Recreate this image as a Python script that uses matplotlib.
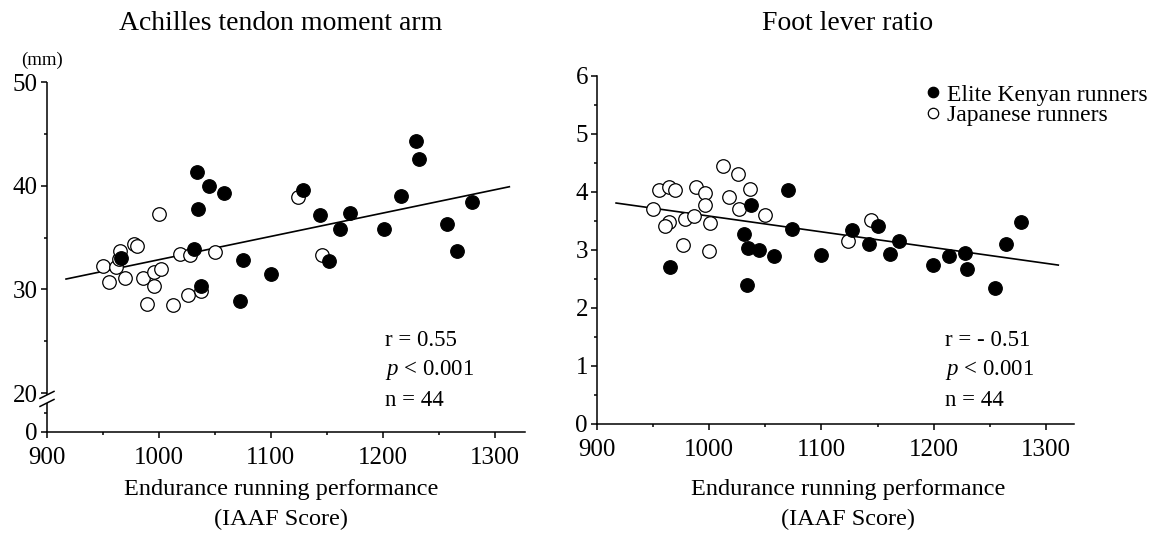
import numpy as np
import matplotlib
matplotlib.use("Agg")
import matplotlib.pyplot as plt
from matplotlib.lines import Line2D
from matplotlib.ticker import FixedLocator, MultipleLocator

plt.rcParams['font.family'] = ['Liberation Serif', 'DejaVu Serif']
plt.rcParams['mathtext.fontset'] = 'custom'
plt.rcParams['mathtext.rm'] = 'Liberation Serif'
plt.rcParams['mathtext.it'] = 'Liberation Serif:italic'

# ---------------- data ----------------
# Achilles tendon moment arm (mm) vs IAAF score
ken_x_ma = [966, 1031, 1034, 1035, 1038, 1045, 1058, 1072, 1075, 1100, 1129,
            1144, 1152, 1162, 1171, 1201, 1216, 1230, 1232, 1257, 1266, 1280]
ken_y_ma = [33.0, 33.9, 41.3, 37.8, 30.3, 40.0, 39.3, 28.9, 32.8, 31.5, 39.6,
            37.2, 32.7, 35.8, 37.4, 35.8, 39.0, 44.3, 42.6, 36.3, 33.7, 38.4]
jpn_x_ma = [950, 955.5, 961.5, 964, 965, 970, 978, 980, 986, 989.5, 996,
            996, 1001.5, 1000, 1012.5, 1018.5, 1026, 1027.5, 1038, 1050, 1124, 1146]
jpn_y_ma = [32.3, 30.7, 32.2, 32.9, 33.7, 31.1, 34.4, 34.2, 31.1, 28.6, 31.7,
            30.3, 32.0, 37.3, 28.5, 33.4, 29.5, 33.3, 29.8, 33.6, 38.9, 33.3]

# Foot lever ratio vs IAAF score
ken_x_fl = [965, 1031, 1033.5, 1034.5, 1037, 1044.5, 1057.5, 1070.5, 1074, 1099.5, 1127,
            1142, 1150, 1161, 1169, 1199, 1214, 1228, 1230, 1255, 1264, 1278]
ken_y_fl = [2.70, 3.27, 2.39, 3.04, 3.77, 3.00, 2.89, 4.04, 3.36, 2.92, 3.34,
            3.11, 3.42, 2.93, 3.16, 2.74, 2.90, 2.94, 2.67, 2.34, 3.10, 3.49]
jpn_x_fl = [949.7, 955, 964.5, 969.5, 964, 960.7, 976.7, 978.5, 986.3, 988.5, 995.8,
            995.8, 1000.5, 999.7, 1012, 1017.7, 1025.5, 1026.6, 1036.5, 1049.5, 1123.3, 1144.5]
jpn_y_fl = [3.71, 4.04, 4.09, 4.04, 3.48, 3.41, 3.09, 3.54, 3.58, 4.09, 3.99,
            3.77, 3.46, 2.98, 4.45, 3.91, 4.31, 3.70, 4.05, 3.60, 3.16, 3.52]

# regression lines (end points)
fit_x_ma = [917, 1313]
fit_y_ma = [31.0, 39.9]
fit_x_fl = [917, 1311]
fit_y_fl = [3.81, 2.74]

titles = ["Achilles tendon moment arm", "Foot lever ratio"]
stats_ma = ["r = 0.55", "$p$ < 0.001", "n = 44"]
stats_fl = ["r = - 0.51", "$p$ < 0.001", "n = 44"]
x_ticks = [900, 1000, 1100, 1200, 1300]
ma_ticks = [0, 20, 30, 40, 50]
fl_ticks = [0, 1, 2, 3, 4, 5, 6]
xlabel_lines = ["Endurance running performance", "(IAAF Score)"]
legend_labels = ["Elite Kenyan runners", "Japanese runners"]

# ---------------- figure ----------------
W, H = 1164, 533
fig = plt.figure(figsize=(W / 100, H / 100), dpi=100)


def px_axes(l, t, r, b):
    return fig.add_axes([l / W, 1 - b / H, (r - l) / W, (b - t) / H])


def ftext(x, y, s, **kw):
    fig.text(x / W, 1 - y / H, s, **kw)


# broken y scale: values below 20 are compressed
BREAK = 20.0
SQUEEZE = 0.1875


def fwd(y):
    y = np.asarray(y, float)
    return np.where(y >= BREAK, y, BREAK - (BREAK - y) * SQUEEZE)


def inv(p):
    p = np.asarray(p, float)
    return np.where(p >= BREAK, p, BREAK - (BREAK - p) / SQUEEZE)


LW = 1.1
TICK_FS = 18


def style(ax):
    for s in ("top", "right"):
        ax.spines[s].set_visible(False)
    for s in ("left", "bottom"):
        ax.spines[s].set_linewidth(LW)
    ax.tick_params(which="major", direction="out", length=4.5, width=LW,
                   labelsize=TICK_FS)
    ax.tick_params(axis="x", which="major", pad=6)
    ax.tick_params(axis="y", which="major", pad=2)
    ax.tick_params(which="minor", direction="out", length=2.5, width=LW)
    ax.xaxis.set_major_locator(FixedLocator(x_ticks))
    ax.xaxis.set_minor_locator(MultipleLocator(50))


def draw(ax, kx, ky, jx, jy, fx, fy):
    ax.scatter(jx, jy, s=95, facecolor="white", edgecolor="black",
               linewidth=0.9, zorder=3, clip_on=False)
    ax.scatter(kx, ky, s=95, facecolor="black", edgecolor="black",
               linewidth=0.9, zorder=4, clip_on=False)
    ax.plot(fx, fy, color="black", lw=1.2, zorder=2)


# ---- left panel ----
ax1 = px_axes(47, 82, 525, 432)
ax1.set_yscale("function", functions=(fwd, inv))
ax1.set_xlim(900, 1327)
ax1.set_ylim(0, 50)
style(ax1)
ax1.yaxis.set_major_locator(FixedLocator(ma_ticks))
ax1.yaxis.set_minor_locator(FixedLocator([10, 25, 35, 45]))
draw(ax1, ken_x_ma, ken_y_ma, jpn_x_ma, jpn_y_ma, fit_x_ma, fit_y_ma)

# left spine with a break just below 20
ax1.spines["left"].set_visible(False)
ax_h = 350.0
ax_w = 478.0
lo, hi = 0.083, 0.106
ax1.plot([0, 0], [0, lo], transform=ax1.transAxes, color="black", lw=LW,
         clip_on=False, solid_capstyle="butt")
ax1.plot([0, 0], [hi, 1], transform=ax1.transAxes, color="black", lw=LW,
         clip_on=False, solid_capstyle="butt")
dx, dy = 7 / ax_w, 3.5 / ax_h
for yc in (lo, hi):
    ax1.plot([-dx, dx], [yc - dy, yc + dy], transform=ax1.transAxes,
             color="black", lw=LW, clip_on=False)

ftext(42, 60, "(mm)", fontsize=13.5, ha="center", va="center")

# ---- right panel ----
ax2 = px_axes(597, 76, 1074, 424)
ax2.set_xlim(900, 1325)
ax2.set_ylim(0, 6)
style(ax2)
ax2.yaxis.set_major_locator(FixedLocator(fl_ticks))
ax2.yaxis.set_minor_locator(MultipleLocator(0.5))
draw(ax2, ken_x_fl, ken_y_fl, jpn_x_fl, jpn_y_fl, fit_x_fl, fit_y_fl)

handles = [
    Line2D([], [], ls="none", marker="o", markersize=7.5, markerfacecolor="black",
           markeredgecolor="black", markeredgewidth=0.9),
    Line2D([], [], ls="none", marker="o", markersize=7.5, markerfacecolor="white",
           markeredgecolor="black", markeredgewidth=0.9),
]
ax2.legend(handles, legend_labels, loc="upper left",
           bbox_to_anchor=(926 / W, 1 - 84 / H), bbox_transform=fig.transFigure,
           frameon=False, fontsize=17, handlelength=0.6, handletextpad=0.3,
           labelspacing=-0.05, borderpad=0, borderaxespad=0)

# ---- titles, stats, axis labels ----
ftext(281, 23, titles[0], fontsize=20, ha="center", va="center")
ftext(848, 23, titles[1], fontsize=20, ha="center", va="center")

for xs, lines in ((385, stats_ma), (945, stats_fl)):
    for yy, s in zip((341, 370, 400), lines):
        ftext(xs, yy, s, fontsize=16.5, ha="left", va="center")

for xc in (281, 848):
    ftext(xc, 490, xlabel_lines[0], fontsize=17.5, ha="center", va="center")
    ftext(xc, 519, xlabel_lines[1], fontsize=17.5, ha="center", va="center")

fig.savefig("out.png", dpi=100, facecolor="white")
